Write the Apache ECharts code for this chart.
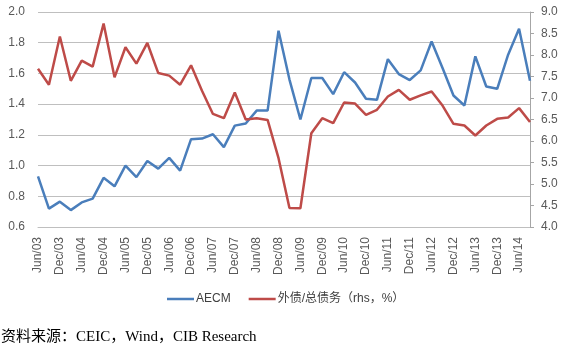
<!DOCTYPE html>
<html>
<head>
<meta charset="utf-8">
<script src="https://cdn.jsdelivr.net/npm/echarts@6/dist/echarts.min.js"></script>
<style>
html,body{margin:0;padding:0;background:#fff;}
#chart{width:568px;height:359px;}
</style>
</head>
<body>
<div id="chart"></div>
<script>
// Quarterly categories Jun/03 .. Sep/14
var categories = [
  "Jun/03","Sep/03","Dec/03","Mar/04","Jun/04","Sep/04","Dec/04","Mar/05",
  "Jun/05","Sep/05","Dec/05","Mar/06","Jun/06","Sep/06","Dec/06","Mar/07",
  "Jun/07","Sep/07","Dec/07","Mar/08","Jun/08","Sep/08","Dec/08","Mar/09",
  "Jun/09","Sep/09","Dec/09","Mar/10","Jun/10","Sep/10","Dec/10","Mar/11",
  "Jun/11","Sep/11","Dec/11","Mar/12","Jun/12","Sep/12","Dec/12","Mar/13",
  "Jun/13","Sep/13","Dec/13","Mar/14","Jun/14","Sep/14"
];
var aecm = [
  0.93,0.72,0.765,0.71,0.76,0.785,0.92,0.865,
  1.00,0.925,1.03,0.98,1.05,0.967,1.172,1.176,
  1.204,1.12,1.26,1.274,1.358,1.358,1.878,1.56,
  1.30,1.57,1.57,1.465,1.608,1.541,1.435,1.428,
  1.693,1.596,1.557,1.62,1.808,1.635,1.456,1.391,
  1.711,1.515,1.50,1.722,1.891,1.552
];
var extDebtShare = [
  7.68,7.31,8.43,7.40,7.87,7.73,8.73,7.48,
  8.18,7.80,8.28,7.58,7.52,7.31,7.76,7.17,
  6.63,6.53,7.13,6.50,6.53,6.49,5.60,4.44,
  4.435,6.18,6.53,6.415,6.895,6.87,6.61,6.725,
  7.035,7.19,6.96,7.06,7.15,6.825,6.40,6.36,
  6.127,6.36,6.515,6.546,6.765,6.44
];
var seriesNames = ["AECM", "外债/总债务（rhs，%）"];
var sourceText = "资料来源：CEIC，Wind，CIB Research";

var chart = echarts.init(document.getElementById('chart'), null, {renderer:'canvas'});
var labelFont = "'Liberation Sans', 'Noto Sans CJK SC', sans-serif";
chart.setOption({
  animation: false,
  backgroundColor: '#ffffff',
  grid: {left: 38, right: 38, top: 12, bottom: 132, containLabel: false},
  legend: {
    data: seriesNames,
    left: 162, top: 288,
    icon: 'rect', itemWidth: 27, itemHeight: 2.5, itemGap: 18,
    textStyle: {fontFamily: labelFont, fontSize: 12, color: '#404040', padding: [0,0,0,-3]}
  },
  xAxis: {
    type: 'category', data: categories, boundaryGap: false,
    axisLine: {show: true, lineStyle: {color: '#bfbfbf', width: 1}},
    axisTick: {show: false},
    axisLabel: {interval: 1, rotate: 90, margin: 10, fontFamily: labelFont, fontSize: 12, color: '#595959'},
    splitLine: {show: false}
  },
  yAxis: [
    {
      type: 'value', min: 0.6, max: 2.0, interval: 0.2, position: 'left',
      axisLine: {show: false}, axisTick: {show: false},
      axisLabel: {margin: 13, fontFamily: labelFont, fontSize: 12, color: '#595959',
        formatter: function(v){ return v.toFixed(1); }},
      splitLine: {show: true, lineStyle: {color: '#bfbfbf', width: 1}}
    },
    {
      type: 'value', min: 4, max: 9, interval: 0.5, position: 'right',
      axisLine: {show: true, lineStyle: {color: '#a6a6a6', width: 1}},
      axisTick: {show: true, inside: false, length: 4, lineStyle: {color: '#a6a6a6'}},
      axisLabel: {margin: 11, fontFamily: labelFont, fontSize: 12, color: '#595959',
        formatter: function(v){ return v.toFixed(1); }},
      splitLine: {show: false}
    }
  ],
  series: [
    {
      name: seriesNames[0], type: 'line', yAxisIndex: 0, data: aecm,
      symbol: 'none', lineStyle: {color: '#4a7ebb', width: 2.5}, itemStyle: {color: '#4a7ebb'}
    },
    {
      name: seriesNames[1], type: 'line', yAxisIndex: 1, data: extDebtShare,
      symbol: 'none', lineStyle: {color: '#be4b48', width: 2.5}, itemStyle: {color: '#be4b48'}
    }
  ],
  graphic: [
    {
      type: 'text', left: 1, top: 330,
      style: {text: sourceText, fontFamily: "'Liberation Serif', 'Noto Sans CJK SC', serif", fontSize: 15, fill: '#000000'}
    }
  ]
});
</script>
</body>
</html>
